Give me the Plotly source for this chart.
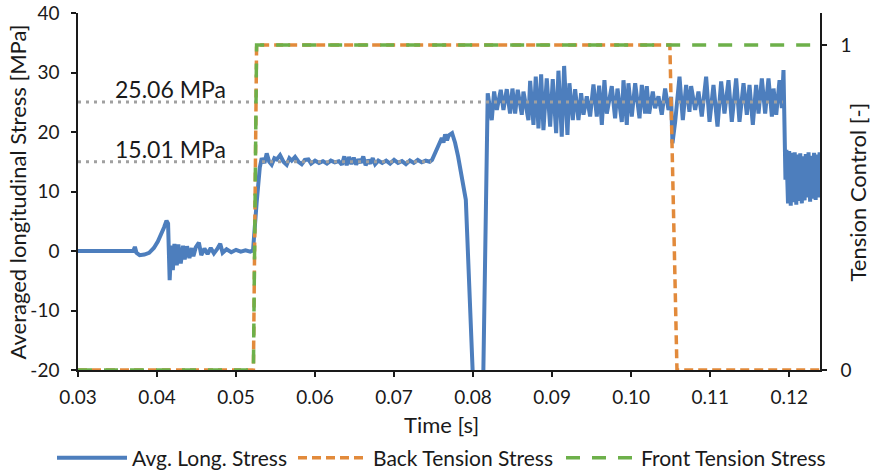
import plotly.graph_objects as go

# Averaged longitudinal stress signal [MPa] over time [s]
time_s = [
    0.0300, 0.0370, 0.0372, 0.0374, 0.0378, 0.0384, 0.0390, 0.0396, 0.0401, 0.0405,
    0.0409, 0.0412, 0.0414, 0.0416, 0.0418, 0.0420, 0.0422, 0.0425, 0.0427, 0.0430,
    0.0433, 0.0435, 0.0438, 0.0441, 0.0444, 0.0446, 0.0449, 0.0453, 0.0456, 0.0460,
    0.0464, 0.0468, 0.0472, 0.0476, 0.0480, 0.0483, 0.0488, 0.0494, 0.0500, 0.0506,
    0.0512, 0.0518, 0.05215,
    # ramp and first plateau
    0.0526, 0.0530, 0.05325, 0.05360, 0.05388, 0.05420, 0.05451, 0.05485, 0.05515, 0.05557,
    0.05600, 0.05641, 0.05675, 0.05705, 0.05747, 0.05790, 0.05831, 0.05870, 0.05916,
    0.0595, 0.0600, 0.0605, 0.0610, 0.0615, 0.0620, 0.0625, 0.0630, 0.0634, 0.0637,
    0.0640, 0.0643, 0.0646, 0.0649, 0.0652, 0.0655, 0.0658, 0.0661, 0.0664, 0.0667,
    0.0670, 0.0673, 0.0676, 0.0680, 0.0685, 0.0690, 0.0695, 0.0700, 0.0705, 0.0710,
    0.0715, 0.0720, 0.0725, 0.0730, 0.0735, 0.0740, 0.0745, 0.0748,
    # rise, collapse and recovery
    0.07540, 0.07604, 0.07625, 0.07646, 0.07670, 0.07690, 0.07734, 0.07750, 0.07772, 0.07810,
    0.07848, 0.07877, 0.07908, 0.07924, 0.07949, 0.07975, 0.08000, 0.08060, 0.08130, 0.08185,
    # second plateau
    0.08236, 0.08266, 0.08300, 0.08350, 0.08384, 0.08426, 0.08468, 0.08498, 0.08532, 0.08565,
    0.08616, 0.08637, 0.08700, 0.08722, 0.08764, 0.08793, 0.08827, 0.08861, 0.08890, 0.08932,
    0.08975, 0.09008, 0.09051, 0.09080, 0.09122, 0.09152, 0.09194, 0.09219, 0.09262, 0.09291,
    0.09333, 0.09367, 0.09397, 0.09439, 0.09481, 0.09523, 0.09565, 0.09595, 0.09629, 0.09662,
    0.09692, 0.09755, 0.09797, 0.09827, 0.09882, 0.09903, 0.09945, 0.09966, 0.10008, 0.10051,
    0.10106, 0.10135, 0.10177, 0.10198, 0.10228, 0.10274, 0.10304, 0.10346, 0.10388, 0.10430,
    0.10473, 0.10506, 0.10523, 0.10557, 0.10612, 0.10654, 0.10696, 0.10738, 0.10759, 0.10810,
    0.10852, 0.10894, 0.10949, 0.10992, 0.11042, 0.11093, 0.11139, 0.11181, 0.11232, 0.11274,
    0.11329, 0.11371, 0.11422, 0.11464, 0.11498, 0.11540, 0.11582, 0.11612, 0.11654, 0.11696,
    0.11738, 0.11781, 0.11802, 0.11836, 0.11878, 0.11907, 0.11928, 0.11953,
    # release
    0.11965, 0.11985, 0.12000, 0.12020, 0.12035, 0.12055, 0.12070, 0.12090, 0.12105, 0.12125,
    0.12140, 0.12160, 0.12175, 0.12195, 0.12210, 0.12230, 0.12245, 0.12265, 0.12280, 0.12300,
    0.12315, 0.12335, 0.12350, 0.12370, 0.12385, 0.12395,
]
stress_mpa = [
    0.0, 0.0, 0.7, -0.3, -0.7, -0.6, -0.3, 0.5, 1.6, 2.7,
    4.0, 5.1, 4.6, -4.9, 0.9, -3.2, 1.2, -2.4, 1.1, -2.1,
    0.9, -1.4, 0.8, -1.2, 0.5, -0.9, 0.6, 1.4, -0.7, 0.4,
    -0.5, 0.5, -0.4, 0.3, 1.2, -0.3, 0.3, -0.2, 0.2, -0.1,
    0.1, -0.1, 0.1,
    8.0, 14.0, 15.6, 14.8, 16.4, 15.0, 14.5, 15.6, 15.4, 16.1,
    15.0, 14.5, 15.6, 15.2, 15.8, 15.0, 14.6, 15.3, 15.4,
    14.7, 15.2, 14.8, 15.1, 14.7, 15.2, 14.9, 15.1, 14.5, 15.9,
    14.4, 15.8, 14.6, 15.7, 14.5, 15.4, 14.8, 15.9, 14.4, 15.3,
    14.7, 15.6, 14.6, 15.2, 14.8, 15.2, 14.7, 15.3, 14.8, 15.1,
    14.6, 15.2, 14.8, 15.3, 14.9, 15.2, 15.0, 15.3,
    17.0, 19.0, 18.2, 19.6, 18.6, 19.4, 19.8, 19.2, 18.2, 15.9,
    13.2, 10.8, 8.6, 3.2, -4.9, -13.3, -20.0, -42.0, -20.0, 26.5,
    22.0, 26.8, 23.7, 27.1, 23.7, 27.2, 23.1, 27.3, 23.1, 27.1,
    22.9, 26.8, 22.0, 28.6, 21.2, 29.3, 20.6, 29.7, 20.3, 29.0,
    20.9, 28.9, 19.8, 30.3, 19.2, 31.1, 19.5, 28.2, 22.0, 27.2,
    22.0, 26.5, 22.9, 26.0, 22.6, 28.0, 22.6, 27.8, 21.2, 28.7,
    23.1, 27.7, 22.3, 27.3, 21.7, 28.7, 21.2, 28.2, 22.6, 28.2,
    22.3, 27.9, 23.1, 27.7, 23.1, 26.8, 24.0, 26.0, 22.9, 27.3,
    23.7, 25.9, 18.1, 21.7, 29.3, 22.0, 27.9, 23.4, 27.7, 23.7,
    26.8, 22.6, 29.3, 21.7, 27.9, 20.9, 28.5, 23.1, 28.7, 21.7,
    29.0, 21.7, 28.2, 22.9, 27.9, 21.2, 27.9, 23.1, 29.0, 23.1,
    29.0, 22.6, 27.3, 22.9, 28.7, 24.0, 30.4, 12.0,
    17.0, 8.0, 16.8, 7.6, 16.5, 8.2, 16.6, 7.8, 16.2, 8.4,
    16.4, 8.0, 15.9, 8.5, 16.3, 9.0, 16.6, 8.3, 16.0, 8.8,
    16.5, 8.6, 16.2, 9.0, 16.6, 12.5,
]

# Tension control signals (0 = off, 1 = on)
back_time = [0.0300, 0.0522, 0.0526, 0.1049, 0.1058, 0.1239]
back_ctrl = [0, 0, 1, 1, 0, 0]
front_time = [0.0300, 0.0522, 0.0526, 0.1239]
front_ctrl = [0, 0, 1, 1]

# Mean stress levels of the two plateaus
level_low = 15.01
level_high = 25.06
level_low_span = [0.0300, 0.0747]
level_high_span = [0.0300, 0.1192]

x_ticks = [0.03, 0.04, 0.05, 0.06, 0.07, 0.08, 0.09, 0.10, 0.11, 0.12]
y_ticks = [-20, -10, 0, 10, 20, 30, 40]
y2_ticks = [0, 1]

FONT = "Lato"
INK = "#1a1a1a"
BLUE = "#4D7EBD"
ORANGE = "#E28A3B"
GREEN = "#6DB04A"
GREY = "#A0A0A0"

fig = go.Figure()

fig.add_trace(go.Scatter(
    x=time_s, y=stress_mpa, mode="lines", name="Avg. Long. Stress",
    line=dict(color=BLUE, width=4), legend="legend",
))
fig.add_trace(go.Scatter(
    x=level_high_span, y=[level_high, level_high], mode="lines", showlegend=False,
    line=dict(color=GREY, width=3, dash="3px,5px"), hoverinfo="skip",
))
fig.add_trace(go.Scatter(
    x=level_low_span, y=[level_low, level_low], mode="lines", showlegend=False,
    line=dict(color=GREY, width=3, dash="3px,5px"), hoverinfo="skip",
))
fig.add_trace(go.Scatter(
    x=back_time, y=back_ctrl, mode="lines", name="Back Tension Stress", yaxis="y2",
    line=dict(color=ORANGE, width=3.5, dash="9px,5px"), legend="legend2",
))
fig.add_trace(go.Scatter(
    x=front_time, y=front_ctrl, mode="lines", name="Front Tension Stress", yaxis="y2",
    line=dict(color=GREEN, width=3.5, dash="14px,12px"), legend="legend3",
))

for lvl in (level_high, level_low):
    fig.add_annotation(
        x=0.04165, y=lvl, text=f"{lvl:.2f} MPa", showarrow=False,
        xanchor="center", yanchor="middle", yshift=13,
        font=dict(family=FONT, size=23, color=INK),
    )

axis_font = dict(family=FONT, size=19, color=INK)
title_font = dict(family=FONT, size=22, color=INK)

# Axis titles placed in paper coordinates around the plot area
fig.add_annotation(text="Averaged longitudinal Stress [MPa]", xref="paper", yref="paper",
                   x=-0.0809, y=0.5, textangle=-90, showarrow=False,
                   xanchor="center", yanchor="middle", font=title_font)
fig.add_annotation(text="Tension Control [-]", xref="paper", yref="paper",
                   x=1.0512, y=0.5, textangle=-90, showarrow=False,
                   xanchor="center", yanchor="middle", font=title_font)
fig.add_annotation(text="Time [s]", xref="paper", yref="paper",
                   x=0.49, y=-0.153, showarrow=False,
                   xanchor="center", yanchor="middle", font=title_font)

common_axis = dict(
    showline=True, linecolor=INK, linewidth=1.5,
    ticks="outside", ticklen=5, tickcolor=INK, tickwidth=1.5,
    showgrid=False, zeroline=False, automargin=False, tickfont=axis_font,
)


def legend_box(left_px):
    """One-entry legend whose left edge sits at the given pixel column."""
    return dict(
        orientation="h", xref="container", x=left_px / 870, xanchor="left",
        yref="container", y=(475 - 458) / 475, yanchor="middle",
        font=dict(family=FONT, size=21, color=INK),
        itemwidth=70, bgcolor="rgba(0,0,0,0)", borderwidth=0,
    )


fig.update_layout(
    width=870, height=475,
    margin=dict(l=78, r=50, t=13, b=105),
    paper_bgcolor="white", plot_bgcolor="white",
    font=axis_font,
    showlegend=True,
    legend=legend_box(52),
    legend2=legend_box(293),
    legend3=legend_box(561),
    xaxis=dict(
        range=[0.03, 0.1239], tickvals=x_ticks, tickformat=".2f",
        ticklabelstandoff=4, **common_axis,
    ),
    yaxis=dict(
        range=[-20, 40], tickvals=y_ticks, ticktext=[str(v) for v in y_ticks],
        ticklabelstandoff=8, **common_axis,
    ),
    yaxis2=dict(
        overlaying="y", side="right", range=[0, 1.0985], tickvals=y2_ticks,
        ticktext=[str(v) for v in y2_ticks], ticklabelstandoff=10, **common_axis,
    ),
)

fig.write_html("out.html")
